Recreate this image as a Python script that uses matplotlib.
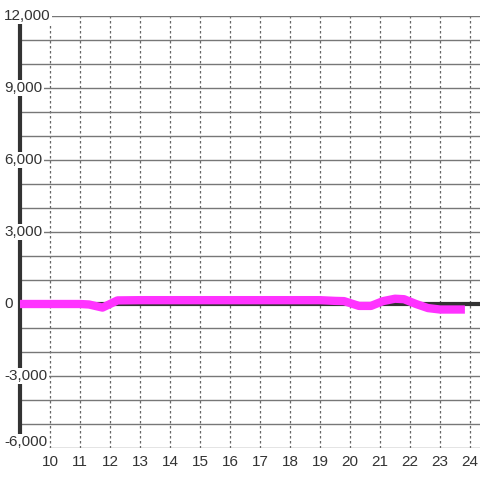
import numpy as np
import matplotlib
matplotlib.use("Agg")
from matplotlib import pyplot as plt
from matplotlib import transforms

# values
xs = [9, 10, 11, 11.3, 11.75, 12.25, 13, 14, 15, 16, 17, 18, 19, 19.5, 19.8,
      20.3, 20.7, 21.1, 21.5, 21.8, 22.2, 22.6, 23, 23.83]
ys = [0, 0, 0, -20, -150, 150, 160, 160, 160, 160, 160, 160, 160, 130, 120,
      -80, -80, 120, 220, 200, 0, -170, -230, -230]

x_ticks = list(range(10, 25))
y_grid = list(range(-6000, 12001, 1000))
y_labels = [-6000, -3000, 0, 3000, 6000, 9000, 12000]

plt.rcParams['font.family'] = ['Liberation Sans', 'DejaVu Sans']

fig = plt.figure(figsize=(4.8, 4.8), dpi=100)
ax = fig.add_axes([20 / 480, 32 / 480, 460 / 480, 432 / 480])
ax.set_xlim(9, 24 + 1 / 3)
ax.set_ylim(-6000, 12000)

ax.set_xticks(x_ticks)
ax.set_yticks(y_grid)
ax.set_yticklabels([])
ax.tick_params(axis='both', length=0)
ax.tick_params(axis='x', labelsize=11, labelcolor='#333333', pad=5)
ax.xaxis.grid(True, color='#666666', linestyle=(0, (2, 2)), linewidth=0.9)
ax.yaxis.grid(True, color='#777777', linestyle='-', linewidth=1)
ax.set_axisbelow(True)

for s in ['top', 'right', 'bottom']:
    ax.spines[s].set_visible(False)
ax.spines['left'].set_color('#333333')
ax.spines['left'].set_linewidth(3)
ax.spines['left'].set_bounds(-5500, 11670)

ax.axhline(0, color='#333333', linewidth=3, zorder=2)
ax.plot(xs, ys, color='#ff33ff', linewidth=6, solid_joinstyle='round',
        solid_capstyle='butt', zorder=3)

tr = transforms.blended_transform_factory(fig.transFigure, ax.transData)
for v in y_labels:
    # the lowest label sits a little above its gridline
    yv = v + 250 if v == -6000 else v
    ax.text(4 / 480, yv, f"{v:,}", transform=tr, ha='left', va='center',
            fontsize=11, color='#333333', clip_on=False, zorder=5,
            bbox=dict(facecolor='white', edgecolor='none', pad=1))

fig.savefig("out.png", dpi=100)
